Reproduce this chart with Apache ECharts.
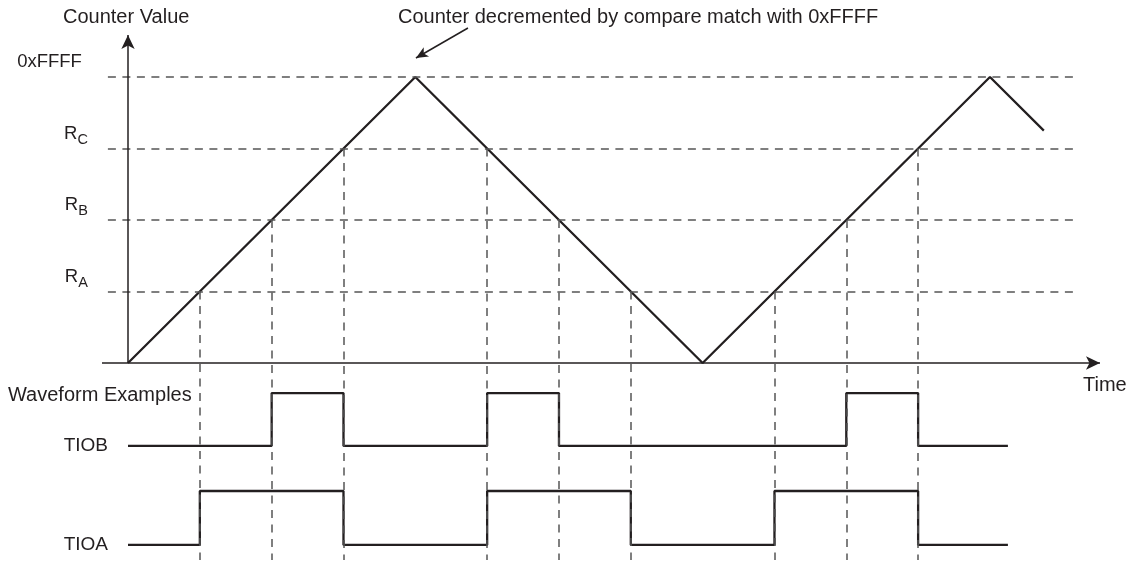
<!DOCTYPE html>
<html>
<head>
<meta charset="utf-8">
<script src="https://cdn.jsdelivr.net/npm/echarts@6/dist/echarts.min.js"></script>
<style>
  html, body { margin: 0; padding: 0; background: #fff; }
  #chart { width: 1131px; height: 565px; }
</style>
</head>
<body>
<div id="chart"></div>
<script>
// compare levels (counter units, 0xFFFF = 4)
const levelValues = [1, 2, 3, 4];
const levelMain = ["R", "R", "R", "0xFFFF"];
const levelSub = ["A", "B", "C", ""];

// up/down counter: time vs value
const counterTime = [0, 4, 8, 12, 12.75];
const counterValue = [0, 4, 0, 4, 3.25];

// compare match instants and the level hit there
const matchTime = [1, 2, 3, 5, 6, 7, 9, 10, 11];
const matchValue = [1, 2, 3, 3, 2, 1, 1, 2, 3];

// output toggles
const tiobToggle = [2, 3, 5, 6, 10, 11];
const tioaToggle = [1, 3, 5, 7, 9, 11];
const waveStart = 0;
const waveEnd = 12.25;
const tiobLevels = [-1.16, -0.42]; // low, high
const tioaLevels = [-2.545, -1.79];

const ink = "#231f20";
const dashGray = "#555555";
const font = "'Liberation Sans', Arial, sans-serif";

function stepPoints(toggles, levels) {
  let state = 0;
  const pts = [[waveStart, levels[0]]];
  toggles.forEach((t) => {
    pts.push([t, levels[state]]);
    state = 1 - state;
    pts.push([t, levels[state]]);
  });
  pts.push([waveEnd, levels[state]]);
  return pts;
}

let chart = echarts.init(document.getElementById("chart"));

const counterData = counterTime.map((t, i) => [t, counterValue[i]]);

// dashed compare levels with their names on the left
const levelLines = levelValues.map((v, i) => [
  {
    coord: [-0.28, v],
    label: {
      show: true,
      position: "start",
      distance: levelSub[i] ? 20 : 26,
      formatter: levelSub[i] ? "{r|" + levelMain[i] + "}{s|" + levelSub[i] + "}" : "{r|" + levelMain[i] + "}",
      padding: [0, 0, 30, 0],
      rich: {
        r: { fontSize: 18.5, color: ink, fontFamily: font },
        s: { fontSize: 14.5, color: ink, fontFamily: font, padding: [13, 0, 0, 0] },
      },
    },
  },
  { coord: [13.18, v] },
]);

// dashed drops from each match down through the waveforms
const dropLines = matchTime.map((t, i) => [{ coord: [t, matchValue[i]] }, { coord: [t, -2.755] }]);

let option = {
  animation: false,
  grid: { left: 0, right: 0, top: 0, bottom: 0 },
  xAxis: { type: "value", min: -1.782, max: 13.9636, show: false },
  yAxis: { type: "value", min: -2.8252, max: 5.0769, show: false },
  series: [
    {
      type: "line",
      name: "guides",
      data: [],
      silent: true,
      markLine: {
        silent: true,
        symbol: "none",
        label: { show: false },
        lineStyle: { color: dashGray, width: 1.5, type: [8, 6.5] },
        emphasis: { disabled: true },
        data: levelLines.concat(dropLines),
      },
    },
    {
      type: "line",
      name: "axes",
      data: [],
      silent: true,
      markLine: {
        silent: true,
        symbol: ["none", "arrow"],
        symbolSize: [10, 14],
        label: { show: false },
        lineStyle: { color: ink, width: 1.5, type: "solid" },
        emphasis: { disabled: true },
        data: [
          [{ coord: [-0.362, 0] }, { coord: [13.532, 0] }],
          [{ coord: [0, 0] }, { coord: [0, 4.587] }],
          [{ coord: [4.733, 4.685], symbolSize: [8, 12] }, { coord: [4.009, 4.266], symbolSize: [8, 12] }],
        ],
      },
    },
    {
      type: "line",
      name: "Counter",
      data: counterData,
      symbol: "none",
      silent: true,
      lineStyle: { color: ink, width: 2.3 },
    },
    {
      type: "line",
      name: "TIOB",
      data: stepPoints(tiobToggle, tiobLevels),
      symbol: "none",
      silent: true,
      lineStyle: { color: ink, width: 2.3 },
    },
    {
      type: "line",
      name: "TIOA",
      data: stepPoints(tioaToggle, tioaLevels),
      symbol: "none",
      silent: true,
      lineStyle: { color: ink, width: 2.3 },
    },
    {
      type: "scatter",
      name: "texts",
      symbolSize: 0,
      silent: true,
      itemStyle: { opacity: 1 },
      label: {
        show: true,
        position: [0, 0],
        align: "left",
        verticalAlign: "middle",
        fontSize: 20,
        color: ink,
        fontFamily: font,
        formatter: (p) => p.data.text,
      },
      data: [
        { value: [-0.905, 4.839], text: "Counter Value" },
        { value: [3.759, 4.839], text: "Counter decremented by compare match with 0xFFFF" },
        { value: [-1.671, -0.448], text: "Waveform Examples" },
        { value: [13.295, -0.31], text: "Time" },
        { value: [-0.278, tiobLevels[0]], text: "TIOB", label: { align: "right", fontSize: 19 } },
        { value: [-0.278, tioaLevels[0]], text: "TIOA", label: { align: "right", fontSize: 19 } },
      ],
    },
  ],
};
option && chart.setOption(option);
</script>
</body>
</html>
